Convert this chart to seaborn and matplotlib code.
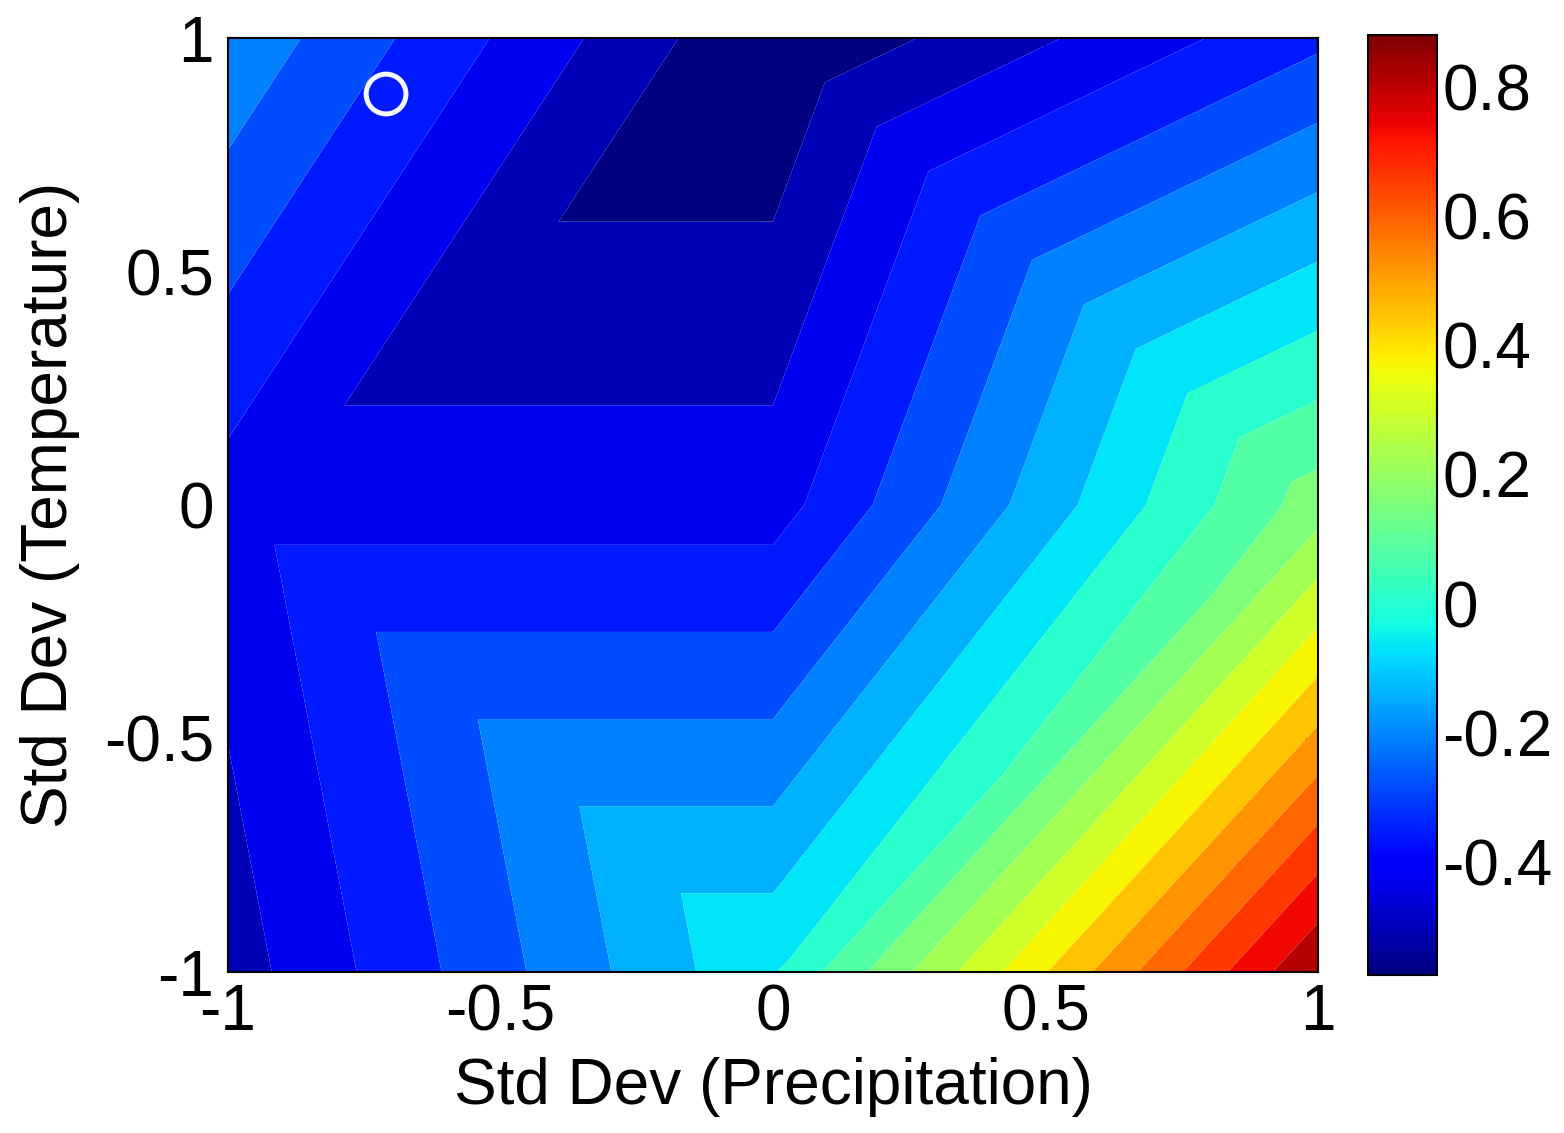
import numpy as np
import matplotlib
matplotlib.use("Agg")
import matplotlib.pyplot as plt
import matplotlib.tri as mtri
import matplotlib.colors as mcolors
import matplotlib.cm as mcm
import seaborn as sns

# ---------------- data ----------------
# grid nodes (standard deviations)
precip_sd = [-1.0, 0.0, 1.0]
temp_sd = [-1.0, 0.0, 1.0]
# response at the nodes: one list per temperature row (-1, 0, +1), columns = precipitation (-1, 0, +1)
z_temp_minus1 = [-0.467, 0.000, 0.880]
z_temp_zero = [-0.390, -0.390, 0.190]
z_temp_plus1 = [-0.155, -0.575, -0.300]
# triangles of the interpolation mesh (node index = row * 3 + column)
mesh_triangles = [[0, 1, 3], [1, 4, 3], [1, 2, 5], [1, 5, 4],
                  [3, 4, 7], [3, 7, 6], [4, 5, 7], [5, 8, 7]]
# highlighted point
marker_precip = [-0.71]
marker_temp = [0.88]
n_levels = 20
axis_ticks = [-1, -0.5, 0, 0.5, 1]
axis_ticklabels = ["-1", "-0.5", "0", "0.5", "1"]
cbar_ticks = [-0.4, -0.2, 0, 0.2, 0.4, 0.6, 0.8]
cbar_ticklabels = ["-0.4", "-0.2", "0", "0.2", "0.4", "0.6", "0.8"]
xlabel = "Std Dev (Precipitation)"
ylabel = "Std Dev (Temperature)"

# ---------------- style ----------------
sns.set_theme(style="white", rc={"text.color": "black", "axes.labelcolor": "black",
                                 "xtick.color": "black", "ytick.color": "black"})
plt.rcParams["font.family"] = ["Liberation Sans", "DejaVu Sans"]
plt.rcParams["axes.unicode_minus"] = False
FS = 46

cmap = matplotlib.colormaps["jet"]

X, Y = np.meshgrid(precip_sd, temp_sd)
Z = np.array([z_temp_minus1, z_temp_zero, z_temp_plus1])
zmin, zmax = Z.min(), Z.max()
levels = np.linspace(zmin, zmax, n_levels + 1)
band_colors = [cmap(k / n_levels) for k in range(n_levels)]

triang = mtri.Triangulation(X.ravel(), Y.ravel(), triangles=mesh_triangles)

fig = plt.figure(figsize=(15.64, 11.33), dpi=100)
ax = fig.add_axes([228 / 1564, 1 - 972 / 1133, 1090 / 1564, 934 / 1133])
ax.tricontourf(triang, Z.ravel(), levels=levels, colors=band_colors, antialiased=True)

sns.scatterplot(x=marker_precip, y=marker_temp, ax=ax, marker="o", s=820,
                facecolor="none", edgecolor="#f4f8ff", linewidth=3.6, zorder=5, legend=False)

ax.set_xlim(-1, 1)
ax.set_ylim(-1, 1)
ax.set_xticks(axis_ticks)
ax.set_xticklabels(axis_ticklabels)
ax.set_yticks(axis_ticks)
ax.set_yticklabels(axis_ticklabels)
ax.tick_params(axis="both", direction="in", length=10, width=1.5, colors="black",
               labelcolor="black", labelsize=FS, top=True, right=True, bottom=True, left=True)
ax.tick_params(axis="x", pad=8)
ax.tick_params(axis="y", pad=10)
for sp in ax.spines.values():
    sp.set_visible(True)
    sp.set_color("black")
    sp.set_linewidth(1.5)
ax.set_xlabel(xlabel, fontsize=FS, color="black")
ax.set_ylabel(ylabel, fontsize=FS, color="black")
ax.xaxis.set_label_coords(0.5, -0.091)
ax.yaxis.set_label_coords(-0.136, 0.5)

# colorbar
cax = fig.add_axes([1368 / 1564, 1 - 975 / 1133, 69 / 1564, 940 / 1133])
sm = mcm.ScalarMappable(norm=mcolors.Normalize(vmin=zmin, vmax=zmax), cmap=cmap)
cb = fig.colorbar(sm, cax=cax, ticks=cbar_ticks)
cb.ax.set_yticklabels(cbar_ticklabels)
cb.ax.tick_params(direction="in", length=10, width=1.5, labelsize=FS, labelcolor="black",
                  colors="black", left=True, right=True, pad=4)
cb.outline.set_edgecolor("black")
cb.outline.set_linewidth(1.5)

fig.savefig("out.png", dpi=100, facecolor="white")
